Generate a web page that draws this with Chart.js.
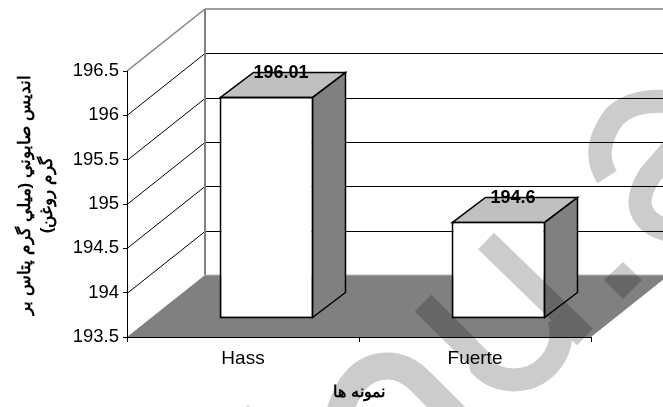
<!DOCTYPE html>
<html lang="fa">
<head>
    <meta charset="UTF-8">
    <title>Saponification index</title>
    <script src="https://cdn.jsdelivr.net/npm/chart.js"></script>
    <style>
        body { margin: 0; background-color: #fff; }
        canvas { display: block; }
    </style>
</head>
<body>
    <canvas id="myChart" width="663" height="407"></canvas>

    <script>
        const categories = ['Hass', 'Fuerte'];
        const sampleValues = [196.01, 194.6];
        const yMin = 193.5;
        const yMax = 196.5;
        const yStep = 0.5;
        const xTitle = 'نمونه ها';
        const yTitleLines = ['اندیس صابوني (میلي گرم پتاس بر', 'گرم روغن)'];

        const FONT = '"Liberation Sans", Arial, sans-serif';
        const wall = { dx: 78, dy: 62 };      // depth of the 3D box
        const barShift = { dx: 23.5, dy: 18 }; // bars stand inside the box
        const barDepth = { dx: 33, dy: 25 };
        const barLine = 2;

        function poly(ctx, pts, fill, stroke, lw) {
            ctx.beginPath();
            pts.forEach((p, i) => i ? ctx.lineTo(p[0], p[1]) : ctx.moveTo(p[0], p[1]));
            ctx.closePath();
            if (fill) { ctx.fillStyle = fill; ctx.fill(); }
            if (stroke) { ctx.strokeStyle = stroke; ctx.lineWidth = lw; ctx.stroke(); }
        }

        function line(ctx, x1, y1, x2, y2, color, lw) {
            ctx.beginPath();
            ctx.moveTo(x1, y1);
            ctx.lineTo(x2, y2);
            ctx.strokeStyle = color;
            ctx.lineWidth = lw;
            ctx.stroke();
        }

        // Back wall, side wall and floor, hung on the y scale
        const box3d = {
            id: 'box3d',
            beforeDraw(chart) {
                const { ctx, chartArea: a, scales: { y } } = chart;
                ctx.save();
                ctx.fillStyle = '#fff';
                ctx.fillRect(0, 0, chart.width, chart.height);

                const yb = y.getPixelForValue(yMin);
                const yt = y.getPixelForValue(yMax);
                poly(ctx, [[a.left, yb], [a.right, yb], [a.right + wall.dx, yb - wall.dy], [a.left + wall.dx, yb - wall.dy]], '#808080');

                y.ticks.forEach(t => {
                    const py = Math.round(y.getPixelForValue(t.value)) + 0.5;
                    if (t.value === yMin || t.value === yMax) return;
                    line(ctx, a.left, py, a.left + wall.dx, py - wall.dy, '#000', 1);
                    line(ctx, a.left + wall.dx, py - wall.dy, chart.width, py - wall.dy, '#000', 1);
                });

                line(ctx, a.left, yt, a.left + wall.dx, yt - wall.dy, '#808080', 1.5);
                line(ctx, a.left + wall.dx, yt - wall.dy, chart.width, yt - wall.dy, '#808080', 1.5);
                line(ctx, a.left + wall.dx, yt - wall.dy, a.left + wall.dx, yb - wall.dy, '#808080', 2);
                line(ctx, a.left + wall.dx, yb - wall.dy, chart.width, yb - wall.dy, '#bbb', 1);
                ctx.restore();
            },
            beforeDatasetsDraw(chart) {
                const ctx = chart.ctx;
                ctx.save();
                ctx.translate(barShift.dx, barShift.dy * -1);
                chart.getDatasetMeta(0).data.forEach(el => {
                    const inset = barLine / 2;
                    const l = el.x - el.width / 2 + inset;
                    const r = el.x + el.width / 2 - inset;
                    const t = el.y + inset;
                    const b = el.base - inset;
                    poly(ctx, [[r, t], [r + barDepth.dx, t - barDepth.dy], [r + barDepth.dx, b - barDepth.dy], [r, b]], '#808080', '#000', 1.5);
                    poly(ctx, [[l, t], [l + barDepth.dx, t - barDepth.dy], [r + barDepth.dx, t - barDepth.dy], [r, t]], '#c0c0c0', '#000', 1.5);
                });
            },
            afterDatasetsDraw(chart) {
                const ctx = chart.ctx;
                ctx.restore();
                ctx.save();
                ctx.fillStyle = '#000';
                ctx.font = 'bold 18px ' + FONT;
                ctx.textAlign = 'center';
                ctx.textBaseline = 'middle';
                chart.getDatasetMeta(0).data.forEach((el, i) => {
                    ctx.fillText(String(sampleValues[i]), el.x + barShift.dx + barDepth.dx / 2 - 2, el.y - barShift.dy - barDepth.dy + 2);
                });

                // y axis title, two rotated lines
                ctx.translate(0, 195);
                ctx.rotate(-Math.PI / 2);
                ctx.direction = 'rtl';
                ctx.font = 'bold 17px ' + FONT;
                ctx.fillText(yTitleLines[0], 0, 25);
                ctx.fillText(yTitleLines[1], 0, 47);
                ctx.restore();
            },
            // Site watermark printed across the scanned figure
            afterDraw(chart) {
                const ctx = chart.ctx;
                ctx.save();
                ctx.globalCompositeOperation = 'multiply';
                ctx.strokeStyle = '#ccc';
                ctx.fillStyle = '#ccc';
                ctx.lineJoin = 'round';

                ctx.lineWidth = 23;
                ctx.beginPath();
                ctx.moveTo(486, 241);
                ctx.lineTo(585, 337);
                ctx.moveTo(423, 303);
                ctx.lineTo(481, 361);
                ctx.arc(514, 333, 47, 0.75 * Math.PI, -0.1 * Math.PI, true);
                ctx.moveTo(607, 177);
                ctx.quadraticCurveTo(590, 150, 614, 117);
                ctx.quadraticCurveTo(635, 96, 680, 103);
                ctx.moveTo(680, 140);
                ctx.lineTo(650, 175);
                ctx.quadraticCurveTo(630, 205, 650, 222);
                ctx.quadraticCurveTo(660, 230, 680, 232);
                ctx.stroke();

                ctx.lineWidth = 27;
                ctx.beginPath();
                ctx.moveTo(338, 420);
                ctx.quadraticCurveTo(350, 366, 388, 366);
                ctx.quadraticCurveTo(405, 366, 420, 381);
                ctx.lineTo(468, 429);
                ctx.stroke();

                poly(ctx, [[623, 262], [642, 280], [623, 299], [604, 280]], '#ccc');
                poly(ctx, [[248, 405], [263, 420], [248, 435], [233, 420]], '#ccc');
                ctx.restore();
            }
        };

        new Chart(document.getElementById('myChart').getContext('2d'), {
            type: 'bar',
            data: {
                labels: categories,
                datasets: [{
                    data: sampleValues,
                    base: yMin,
                    backgroundColor: '#fff',
                    borderColor: '#000',
                    borderWidth: barLine,
                    borderSkipped: false,
                    barPercentage: 0.405,
                    categoryPercentage: 1,
                    clip: false
                }]
            },
            options: {
                responsive: false,
                animation: false,
                layout: { padding: { top: 71, right: 72, left: 0, bottom: 0 } },
                plugins: { legend: { display: false }, tooltip: { enabled: false } },
                scales: {
                    x: {
                        afterFit(s) { s.height = 70; },
                        grid: { offset: true, drawOnChartArea: false, tickLength: 5, color: '#000' },
                        border: { color: '#000', width: 1 },
                        ticks: { color: '#000', font: { family: FONT, size: 19 }, padding: 5, maxRotation: 0 },
                        title: { display: true, text: xTitle, color: '#000', font: { family: FONT, size: 16, weight: 'bold' }, padding: { top: 0, bottom: 5 } }
                    },
                    y: {
                        min: yMin,
                        max: yMax,
                        afterFit(s) { s.width = 127; },
                        grid: { drawOnChartArea: false, tickLength: 4, color: '#000' },
                        border: { color: '#000', width: 1 },
                        ticks: { stepSize: yStep, color: '#000', font: { family: FONT, size: 18.5 }, padding: 4, callback: v => String(v) }
                    }
                }
            },
            plugins: [box3d]
        });
    </script>
</body>
</html>
